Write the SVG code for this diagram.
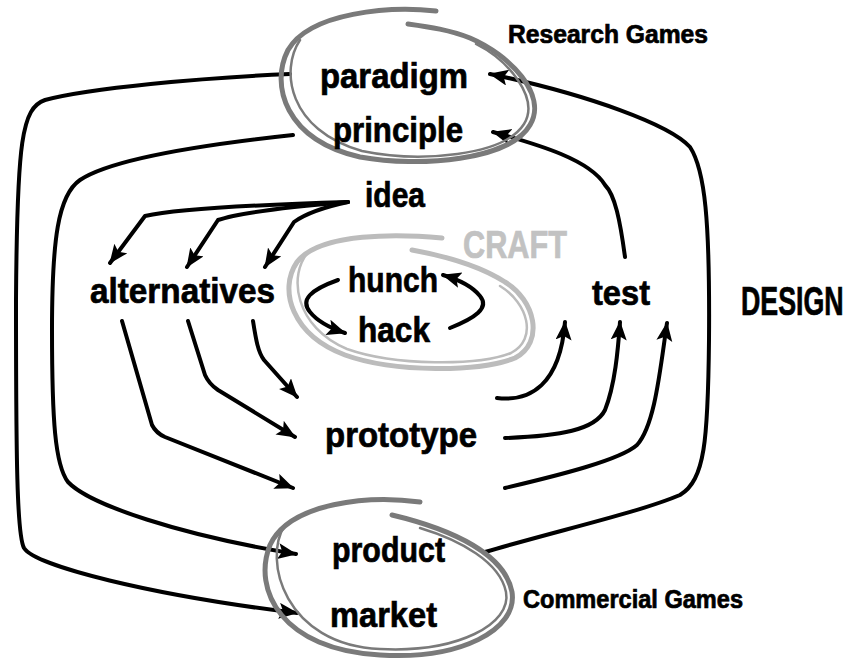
<svg xmlns="http://www.w3.org/2000/svg" width="853" height="661" viewBox="0 0 853 661">
<style>
.t{font-family:"Liberation Sans",Arial,sans-serif;font-weight:bold;fill:#000;stroke:#000;stroke-width:0.7}
.w{font-size:35px}
.s{font-size:25px}
.c{fill:none;stroke:#000;stroke-width:4;stroke-linecap:round;stroke-linejoin:round}
.a{marker-end:url(#ah)}
.ring{fill:none;stroke:#7a7a7a;stroke-linecap:round}
.ring2{fill:none;stroke:#bcbcbc;stroke-linecap:round}
</style>
<defs>
<marker id="ah" markerUnits="userSpaceOnUse" markerWidth="22" markerHeight="18" refX="18" refY="8" orient="auto">
<path d="M0,0 L19,8 L0,16 L4,8 Z" fill="#000"/>
</marker>
</defs>
<rect width="853" height="661" fill="#fff"/>
<g id="connectors">
<path class="c a" d="M290,74 C200,78 90,88 45,100 C22,108 17,140 16,300 C16,460 17,535 24,548 C35,566 150,595 297,613"/>
<path class="c a" d="M293,135 C200,145 110,160 80,180 C58,195 52,240 52,330 C52,420 55,465 68,482 C90,505 180,535 296,554"/>
<path class="c a" d="M348,202 C280,204 180,208 145,216 L110,263"/>
<path class="c a" d="M348,202 C300,206 240,212 218,220 L187,267"/>
<path class="c a" d="M348,202 C320,208 305,214 294,222 L265,267"/>
<path class="c a" d="M122,321 L152,425 Q156,433 165,437 L293,488"/>
<path class="c a" d="M188,321 L205,375 Q209,384 218,390 L295,437"/>
<path class="c a" d="M253,321 C256,340 258,352 264,360 L297,397"/>
<path class="c a" d="M338,280 C310,290 300,300 310,312 C318,322 330,328 345,333"/>
<path class="c a" d="M450,328 C475,318 490,308 480,296 C472,286 460,280 443,275"/>
<path class="c a" d="M497,398 C530,402 560,385 565,322"/>
<path class="c a" d="M505,438 C560,436 595,430 605,410 C615,385 618,350 620,322"/>
<path class="c a" d="M505,488 C560,475 620,460 637,445 C655,425 660,370 667,323"/>
<path class="c a" d="M625,257 C620,220 615,195 605,185 C590,160 540,145 493,132"/>
<path class="c a" d="M485,552 C560,530 640,512 680,495 C705,480 708,440 709,340 C710,220 705,170 690,147 C670,125 590,95 490,74"/>
</g>
<g id="research">
<path class="ring" stroke-width="5" d="M436,11 C390,6 310,12 288,50 C270,85 285,140 360,157 C420,168 510,160 530,125 C548,95 510,55 470,38 C450,30 430,27 408,24"/>
<path class="ring" stroke-width="2.5" d="M300,40 C280,70 288,130 362,151 C420,163 504,156 524,124 C540,98 508,60 476,44"/>
<text class="t w" x="320" y="88" textLength="148" lengthAdjust="spacingAndGlyphs">paradigm</text>
<text class="t w" x="333" y="142" textLength="130" lengthAdjust="spacingAndGlyphs">principle</text>
<text class="t s" x="508" y="43" textLength="200" lengthAdjust="spacingAndGlyphs">Research Games</text>
</g>
<g id="craft">
<path class="ring2" stroke-width="5" d="M442,238 C400,234 320,232 297,262 C278,290 292,335 345,355 C395,373 480,372 515,358 C545,342 535,300 505,282 C480,266 445,256 412,250"/>
<path class="ring2" stroke-width="2.5" d="M310,250 C286,275 296,328 347,349 C395,366 478,366 511,353 C538,339 528,303 500,286"/>
<text class="t" x="463" y="258" font-size="38" style="fill:#c2c2c2;stroke:#c2c2c2" textLength="104" lengthAdjust="spacingAndGlyphs">CRAFT</text>
</g>
<g id="hunch"><text class="t w" x="348" y="292" textLength="90" lengthAdjust="spacingAndGlyphs">hunch</text></g>
<g id="hack"><text class="t w" x="358" y="342" textLength="72" lengthAdjust="spacingAndGlyphs">hack</text></g>
<g id="idea"><text class="t w" x="365" y="207" textLength="60" lengthAdjust="spacingAndGlyphs">idea</text></g>
<g id="alternatives"><text class="t w" x="90" y="303" textLength="185" lengthAdjust="spacingAndGlyphs">alternatives</text></g>
<g id="test"><text class="t w" x="592" y="305" textLength="58" lengthAdjust="spacingAndGlyphs">test</text></g>
<g id="prototype"><text class="t w" x="325" y="447" textLength="152" lengthAdjust="spacingAndGlyphs">prototype</text></g>
<g id="design"><text class="t" x="0" y="0" font-size="40" transform="translate(741,315) scale(0.67,1)">DESIGN</text></g>
<g id="commercial">
<path class="ring" stroke-width="5" d="M420,502 C370,495 290,502 270,545 C252,590 282,650 380,655 C460,660 518,630 512,592 C505,555 455,530 392,515"/>
<path class="ring" stroke-width="2.5" d="M285,525 C262,560 285,645 380,649 C458,653 512,624 506,592 C500,562 460,540 420,528"/>
<text class="t w" x="332" y="562" textLength="113" lengthAdjust="spacingAndGlyphs">product</text>
<text class="t w" x="330" y="627" textLength="107" lengthAdjust="spacingAndGlyphs">market</text>
<text class="t s" x="523" y="608" textLength="220" lengthAdjust="spacingAndGlyphs">Commercial Games</text>
</g>
</svg>
